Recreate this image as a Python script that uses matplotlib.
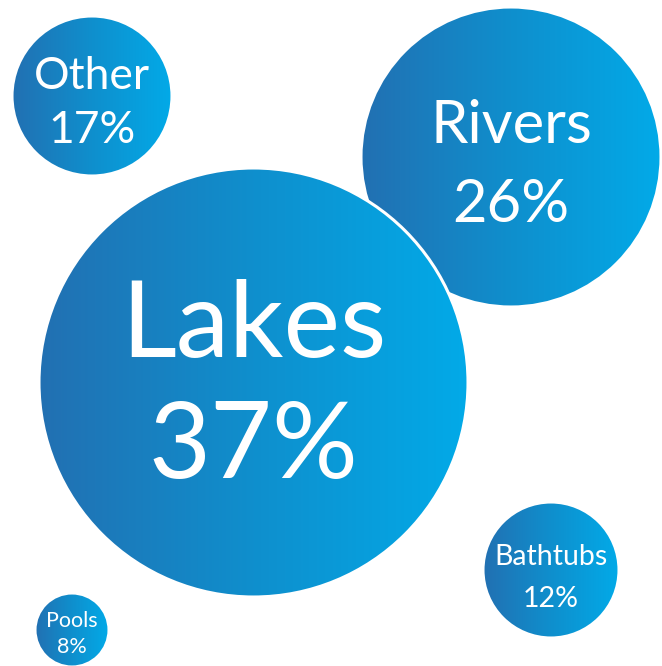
import numpy as np
import matplotlib
matplotlib.use("Agg")
import matplotlib.pyplot as plt
from matplotlib.patches import Circle
from matplotlib.colors import LinearSegmentedColormap

# Data
categories = ["Lakes", "Rivers", "Other", "Bathtubs", "Pools"]
values = [37, 26, 17, 12, 8]

# Layout (pixel coordinates, y downward)
centers_x = [253.5, 511, 92, 551, 72]
centers_y = [382.5, 157, 96, 570, 630]
radii = [214.5, 150, 80, 68, 37]
label_sizes = [77, 43, 32, 20.5, 15.5]      # font size in points
name_baseline = [357, 143, 89, 565, 627]
pct_baseline = [478, 222, 143, 607, 653]
draw_order = [1, 2, 3, 4, 0]  # Lakes drawn on top with white edge

W, H = 662, 666
fig = plt.figure(figsize=(W / 100, H / 100), dpi=100)
ax = fig.add_axes([0, 0, 1, 1])
ax.set_xlim(0, W)
ax.set_ylim(H, 0)
ax.set_axis_off()

cmap = LinearSegmentedColormap.from_list("water", ["#2270b2", "#0f8fcd", "#02aae8"])
grad = np.linspace(0, 1, 256).reshape(1, -1)

plt.rcParams['font.family'] = ['Lato', 'DejaVu Sans']

for z, i in enumerate(draw_order):
    cx, cy, r = centers_x[i], centers_y[i], radii[i]
    im = ax.imshow(grad, cmap=cmap, extent=(cx - r, cx + r, cy + r, cy - r),
                   aspect='auto', zorder=2 * z + 1, interpolation='bilinear')
    clip = Circle((cx, cy), r, transform=ax.transData, facecolor='none', edgecolor='none')
    ax.add_patch(clip)
    im.set_clip_path(clip)
    edge = Circle((cx, cy), r, facecolor='none', edgecolor='white', linewidth=2.2,
                  zorder=2 * z + 1.5)
    ax.add_patch(edge)
    ax.text(cx, name_baseline[i], categories[i], ha='center', va='baseline',
            color='white', fontsize=label_sizes[i], zorder=2 * z + 1.8)
    ax.text(cx, pct_baseline[i], f"{values[i]}%", ha='center', va='baseline',
            color='white', fontsize=label_sizes[i], zorder=2 * z + 1.8)

fig.savefig("out.png", dpi=100)
